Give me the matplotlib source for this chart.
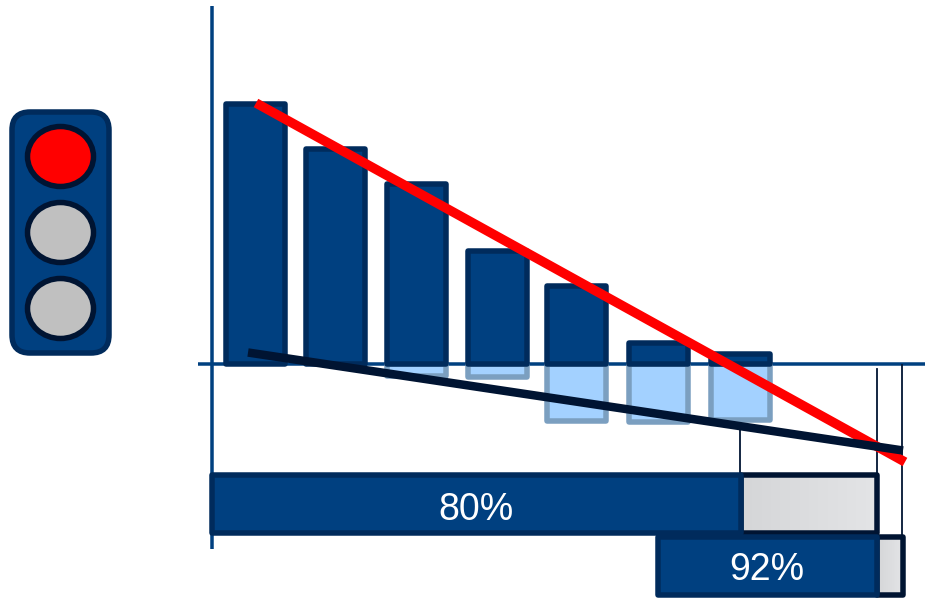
import matplotlib
matplotlib.use("Agg")
import matplotlib.pyplot as plt
import numpy as np
from matplotlib.patches import FancyBboxPatch, Ellipse, Rectangle

plt.rcParams['font.family'] = ['Liberation Sans', 'DejaVu Sans']

W, H = 925, 598
BASE = 363.5  # baseline, pixels from the top

# bars
bar_x = [255, 335, 416.5, 497, 576, 658, 740]
dark_vals = [260, 215, 180, 113, 78, 21, 9.5]
light_vals = [0, 0, 12.5, 13.5, 57, 58, 56]

# trend lines (x list, y list)
red_x = [256, 905]
red_y = [103, 462]
black_x = [248, 903]
black_y = [352.5, 450.5]

# thin drop lines: x, top, bottom
drop_x = [740, 877, 902]
drop_top = [425, 369, 365]
drop_bot = [473, 473, 537]

# progress bars
prog_labels = ['80%', '92%']
prog_start = [212, 657.5]
prog_split = [741, 877]
prog_end = [876.5, 902.5]
prog_top = [475, 537]
prog_bot = [532.5, 595]

# traffic light
lamp_y = [156.5, 232.5, 308.5]
lamp_colors = ['#FF0000', '#C0C0C0', '#C0C0C0']

BLUE = '#004080'
EDGE = '#002B5C'
NAVY = '#001432'
LIGHT = '#A3D1FF'
LIGHT_EDGE = '#7B9FC0'

px = 72 / 100  # one pixel in points

fig = plt.figure(figsize=(W / 100, H / 100), dpi=100)
ax = fig.add_axes([0, 0, 1, 1])
ax.axis('off')

# axes lines
ax.plot([212, 212], [6, 549], color=BLUE, lw=3.5 * px, zorder=1, solid_capstyle='butt')
ax.plot([198, 925], [BASE, BASE], color=BLUE, lw=3.5 * px, zorder=1, solid_capstyle='butt')

# bars, light ones hang below the baseline
light = ax.bar(bar_x, light_vals, width=59, bottom=BASE, color=LIGHT,
               edgecolor=LIGHT_EDGE, linewidth=5.5 * px, zorder=2)
for b, v in zip(light, light_vals):
    b.set_joinstyle('round')
    b.set_visible(v > 0)
dark = ax.bar(bar_x, [-v for v in dark_vals], width=59, bottom=BASE, color=BLUE,
              edgecolor=EDGE, linewidth=5.5 * px, zorder=3)
for b in dark:
    b.set_joinstyle('round')

# drop lines
for x, t, b in zip(drop_x, drop_top, drop_bot):
    ax.plot([x, x], [t, b], color=NAVY, lw=1.8 * px, zorder=4)

ax.plot(red_x, red_y, color='#FF0000', lw=9.5 * px, zorder=5, solid_capstyle='butt')
ax.plot(black_x, black_y, color=NAVY, lw=8.5 * px, zorder=6, solid_capstyle='butt')

# progress bars
grad = np.linspace(0, 1, 64).reshape(1, -1)
grey = matplotlib.colors.LinearSegmentedColormap.from_list('g', ['#D5D6D8', '#E3E4E6'])
for i in range(2):
    s, m, e = prog_start[i], prog_split[i], prog_end[i]
    t, bt = prog_top[i], prog_bot[i]
    ax.imshow(grad, cmap=grey, extent=[m, e, bt, t], aspect='auto', zorder=7 + i * 2)
    ax.add_patch(Rectangle((m, t), e - m, bt - t, fill=False, ec=NAVY, lw=5.5 * px,
                           joinstyle='round', zorder=7.5 + i * 2))
    ax.add_patch(Rectangle((s, t), m - s, bt - t, fc=BLUE, ec=EDGE, lw=5.5 * px,
                           joinstyle='round', zorder=8 + i * 2))

ax.text(475.5, 509.5, prog_labels[0], color='white', fontsize=27, ha='center', va='center', zorder=12)
ax.text(767, 570.5, prog_labels[1], color='white', fontsize=27, ha='center', va='center', zorder=12)

# traffic light
ax.add_patch(FancyBboxPatch((31, 131), 59, 203, boxstyle='round,pad=19,rounding_size=18',
                            fc=BLUE, ec=EDGE, lw=5.5 * px, zorder=2))
for y, c in zip(lamp_y, lamp_colors):
    ax.add_patch(Ellipse((60.5, y), 66, 60, fc=c, ec=NAVY, lw=5.5 * px, zorder=3))

ax.set_xlim(0, W)
ax.set_ylim(H, 0)
fig.savefig('out.png', dpi=100)
